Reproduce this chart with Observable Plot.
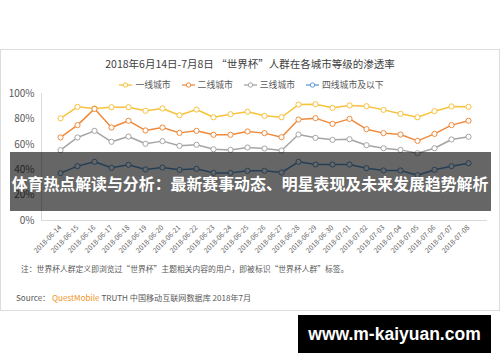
<!DOCTYPE html>
<html>
<head>
<meta charset="utf-8">
<script src="https://cdn.jsdelivr.net/npm/d3@7"></script>
<script src="https://cdn.jsdelivr.net/npm/@observablehq/plot@0.6"></script>
<style>
  html, body { margin: 0; padding: 0; background: #fff; }
  body { width: 500px; height: 362px; position: relative; overflow: hidden; font-family: "Noto Sans CJK SC", "Noto Sans", sans-serif; }
  #card { position: absolute; left: 0; top: 49px; width: 498px; height: 260px; border: 1px solid #dcdcdc; background: #fff; }
  #title { position: absolute; left: 0; width: 500px; top: 55px; text-align: center; font-size: 10.5px; color: #404040; line-height: 18px; white-space: nowrap; }
  #legend { position: absolute; left: 0; width: 500px; top: 78px; display: flex; justify-content: center; gap: 11px; font-size: 8.8px; color: #595959; line-height: 13px; padding-left: 3px; box-sizing: border-box; }
  #legend .item { display: flex; align-items: center; gap: 3px; white-space: nowrap; }
  #chart { position: absolute; left: 0; top: 80px; }
  #note { position: absolute; left: 21px; top: 263px; font-size: 7.8px; color: #595959; line-height: 12px; white-space: nowrap; }
  #source { position: absolute; left: 16px; top: 291px; font-size: 8.1px; color: #595959; line-height: 13px; white-space: nowrap; }
  #source .qm { color: #f0961e; }
  #banner { position: absolute; left: 10px; top: 152px; width: 481px; height: 59px; background: rgba(0,0,0,0.6); }
  #bannertext { position: absolute; left: 0; width: 500px; top: 173px; text-align: center; color: #fff; font-weight: bold; font-size: 15.9px; line-height: 22px; white-space: nowrap; }
  #wm { position: absolute; left: 298px; top: 315px; width: 193px; height: 38px; background: #000; color: #fff; font-family: "Liberation Sans", Arial, sans-serif; font-weight: bold; font-size: 17.5px; display: flex; align-items: center; justify-content: center; }
</style>
</head>
<body>
<div id="card"></div>
<div id="title">2018年6月14日-7月8日 “世界杯”人群在各城市等级的渗透率</div>
<div id="legend"></div>
<div id="chart"></div>
<div id="note">注：世界杯人群定义即浏览过“世界杯”主题相关内容的用户，即被标识“世界杯人群”标签。</div>
<div id="source">Source： <span class="qm">QuestMobile</span> TRUTH 中国移动互联网数据库 2018年7月</div>
<div id="banner"></div>
<div id="bannertext">体育热点解读与分析：最新赛事动态、明星表现及未来发展趋势解析</div>
<div id="wm">www.m-kaiyuan.com</div>
<script>
const dates = ["2018-06-14","2018-06-15","2018-06-16","2018-06-17","2018-06-18","2018-06-19","2018-06-20","2018-06-21","2018-06-22","2018-06-23","2018-06-24","2018-06-25","2018-06-26","2018-06-27","2018-06-28","2018-06-29","2018-06-30","2018-07-01","2018-07-02","2018-07-03","2018-07-04","2018-07-05","2018-07-06","2018-07-07","2018-07-08"];
const seriesNames = ["一线城市", "二线城市", "三线城市", "四线城市及以下"];
const seriesColors = ["#f8c23c", "#ee8a3c", "#a5a5a5", "#5b9bd5"];
const tier1 = [80.5, 89.5, 88.2, 89.2, 89.2, 86.4, 88.2, 82.9, 87.4, 81.3, 83.7, 85.6, 82.4, 81.3, 91.3, 91.6, 88.7, 90.6, 90.0, 87.1, 84.0, 81.3, 86.1, 89.8, 89.5];
const tier2 = [65.4, 75.1, 87.9, 73.2, 78.5, 70.9, 73.2, 69.0, 70.6, 67.5, 67.5, 70.1, 68.8, 65.6, 79.5, 80.6, 76.1, 80.0, 71.9, 68.8, 67.7, 62.7, 68.2, 75.1, 78.5];
const tier3 = [55.4, 65.4, 70.6, 62.0, 66.1, 60.4, 62.5, 58.8, 59.6, 56.1, 55.6, 57.5, 56.7, 55.1, 67.7, 65.1, 63.5, 64.0, 59.3, 56.9, 55.6, 53.0, 56.9, 63.8, 65.9];
const tier4 = [37.3, 42.8, 46.2, 41.5, 43.9, 40.2, 41.7, 39.9, 40.7, 37.5, 37.5, 39.1, 39.1, 37.8, 46.2, 44.1, 44.1, 44.1, 41.2, 39.4, 39.4, 35.7, 39.9, 42.8, 45.1];
const yTicks = [0, 20, 40, 60, 80, 100];

const allSeries = [tier1, tier2, tier3, tier4];
const data = [];
allSeries.forEach((vals, si) => vals.forEach((v, i) => data.push({date: dates[i], value: v, series: seriesNames[si]})));

// legend
const legend = document.getElementById("legend");
seriesNames.forEach((name, i) => {
  const item = document.createElement("div");
  item.className = "item";
  item.innerHTML = `<svg width="13" height="8"><line x1="0" x2="13" y1="4" y2="4" stroke="${seriesColors[i]}" stroke-width="1.3"/><circle cx="6.5" cy="4" r="2.2" fill="#fff" stroke="${seriesColors[i]}" stroke-width="1"/></svg><span>${name}</span>`;
  legend.appendChild(item);
});

const chart = Plot.plot({
  width: 500,
  height: 188,
  marginTop: 13,
  marginBottom: 48,
  marginLeft: 41,
  marginRight: 13,
  style: {fontFamily: "Noto Sans CJK SC, sans-serif", color: "#595959", background: "transparent"},
  x: {type: "point", domain: dates, padding: 0.5, label: null},
  y: {domain: [0, 100], label: null},
  color: {domain: seriesNames, range: seriesColors},
  marks: [
    Plot.frame({anchor: "left", stroke: "#d9d9d9"}),
    Plot.ruleY([0], {stroke: "#d9d9d9"}),
    Plot.axisY({ticks: yTicks, tickFormat: d => d + "%", tickSize: 0, tickPadding: 7, fontSize: 10, label: null}),
    Plot.axisX({tickRotate: -45, tickSize: 0, tickPadding: 6, fontSize: 7, label: null}),
    Plot.line(data, {x: "date", y: "value", z: "series", stroke: "series", strokeWidth: 1.5}),
    Plot.dot(data, {x: "date", y: "value", stroke: "series", fill: "white", r: 2.6, strokeWidth: 1})
  ]
});
document.getElementById("chart").appendChild(chart);
</script>
</body>
</html>
